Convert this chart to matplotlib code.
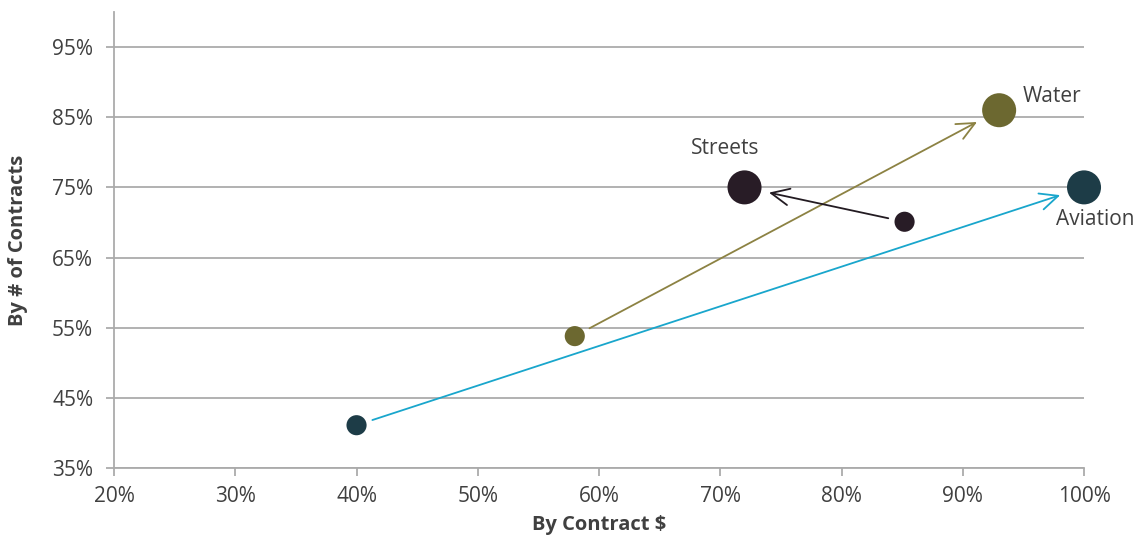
import matplotlib
matplotlib.use("Agg")
import matplotlib.pyplot as plt
from matplotlib.ticker import FixedLocator, FuncFormatter

# Departments: share by contract dollars (x) and by number of contracts (y),
# earlier period (start) and later period (end)
departments = ["Aviation", "Water", "Streets"]
x_start = [0.40, 0.58, 0.852]
y_start = [0.411, 0.538, 0.701]
x_end = [1.00, 0.93, 0.72]
y_end = [0.75, 0.86, 0.75]

dot_colors = ["#1d3c47", "#6c6830", "#281c26"]
arrow_colors = ["#19a6cc", "#8c8243", "#231b22"]

x_ticks = [0.2, 0.3, 0.4, 0.5, 0.6, 0.7, 0.8, 0.9, 1.0]
y_ticks = [0.35, 0.45, 0.55, 0.65, 0.75, 0.85, 0.95]

plt.rcParams["font.family"] = ["Open Sans", "DejaVu Sans"]

fig = plt.figure(figsize=(11.37, 5.38), dpi=100)
ax = fig.add_axes([0.1003, 0.1301, 0.8531, 0.8476])

ax.set_xlim(0.2, 1.0)
ax.set_ylim(0.35, 1.0)
ax.xaxis.set_major_locator(FixedLocator(x_ticks))
ax.yaxis.set_major_locator(FixedLocator(y_ticks))
pct = FuncFormatter(lambda v, _: f"{v * 100:.0f}%")
ax.xaxis.set_major_formatter(pct)
ax.yaxis.set_major_formatter(pct)

grid_color = "#ababab"
ax.grid(axis="y", color=grid_color, linewidth=1.3, zorder=0)
ax.set_axisbelow(True)
for side in ("top", "right"):
    ax.spines[side].set_visible(False)
for side in ("left", "bottom"):
    ax.spines[side].set_color(grid_color)
    ax.spines[side].set_linewidth(1.3)
ax.tick_params(axis="both", colors=grid_color, width=1.3, length=6,
               labelcolor="#404040", labelsize=15)
ax.tick_params(axis="x", pad=7)
ax.tick_params(axis="y", pad=9)

# Arrows from the earlier position to the later one
for xs, ys, xe, ye, c in zip(x_start, y_start, x_end, y_end, arrow_colors):
    ax.annotate("", xy=(xe, ye), xytext=(xs, ys),
                arrowprops=dict(arrowstyle="->,head_length=1.3,head_width=0.6",
                                color=c, lw=1.3, shrinkA=12, shrinkB=18),
                zorder=2)

ax.scatter(x_start, y_start, s=210, c=dot_colors, zorder=3, linewidths=0)
ax.scatter(x_end, y_end, s=600, c=dot_colors, zorder=3, linewidths=0,
           clip_on=False)

label_style = dict(fontsize=15, color="#404040")
ax.annotate(departments[0], (x_end[0], y_end[0]), xytext=(8, -23),
            textcoords="offset points", ha="center", va="center", **label_style)
ax.annotate(departments[1], (x_end[1], y_end[1]), xytext=(38, 10),
            textcoords="offset points", ha="center", va="center", **label_style)
ax.annotate(departments[2], (x_end[2], y_end[2]), xytext=(-14, 28),
            textcoords="offset points", ha="center", va="center", **label_style)

ax.set_xlabel("By Contract $", fontsize=14.5, fontweight="bold",
              color="#404040", labelpad=6)
ax.set_ylabel("By # of Contracts", fontsize=14.5, fontweight="bold",
              color="#404040", labelpad=17)

fig.savefig("out.png", dpi=100, facecolor="white")
